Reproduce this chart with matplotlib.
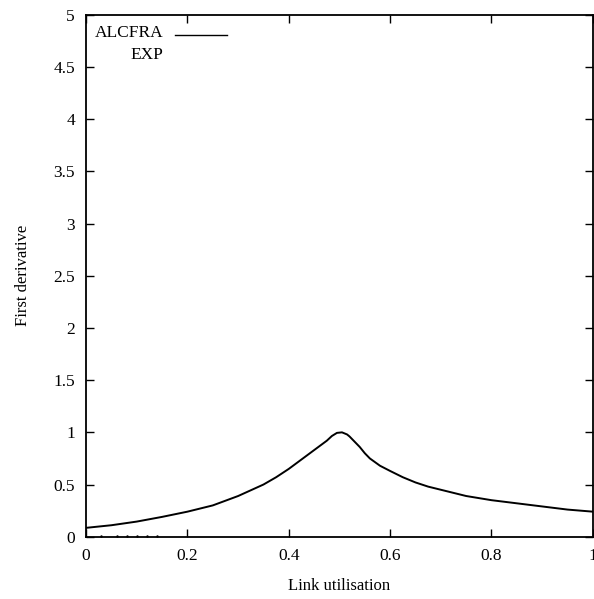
import numpy as np
import matplotlib.pyplot as plt

plt.rcParams['font.family'] = ['Liberation Serif', 'DejaVu Serif']

# ALCFRA curve
util = [0.0, 0.05, 0.1, 0.15, 0.2, 0.25, 0.3, 0.35, 0.375, 0.4, 0.425, 0.45,
        0.475, 0.485, 0.495, 0.505, 0.515, 0.52, 0.53, 0.54, 0.55, 0.56,
        0.58, 0.6, 0.625, 0.65, 0.675, 0.7, 0.75, 0.8, 0.85, 0.9, 0.95, 1.0]
alcfra = [0.085, 0.11, 0.145, 0.19, 0.24, 0.30, 0.39, 0.50, 0.57, 0.65,
          0.74, 0.83, 0.92, 0.965, 0.995, 1.0, 0.98, 0.96, 0.91, 0.86, 0.80,
          0.75, 0.68, 0.63, 0.57, 0.52, 0.48, 0.45, 0.39, 0.35, 0.32, 0.29,
          0.26, 0.24]

# EXP points sit almost on the x axis
exp_x = [0.03, 0.06, 0.08, 0.1, 0.12, 0.14]
exp_y = [0.01, 0.01, 0.01, 0.01, 0.01, 0.01]

xticks = [0, 0.2, 0.4, 0.6, 0.8, 1]
xlabels = ['0', '0.2', '0.4', '0.6', '0.8', '1']
yticks = [0, 0.5, 1, 1.5, 2, 2.5, 3, 3.5, 4, 4.5, 5]
ylabels = ['0', '0.5', '1', '1.5', '2', '2.5', '3', '3.5', '4', '4.5', '5']

fig = plt.figure(figsize=(5.94, 5.99), dpi=100)
ax = fig.add_axes([0.145, 0.104, 0.853, 0.871])

ax.plot(util, alcfra, color='black', lw=1.4)
ax.plot(exp_x, exp_y, ls='none', marker='.', ms=1.5, color='black')

ax.set_xlim(0, 1)
ax.set_ylim(0, 5)
ax.set_xticks(xticks)
ax.set_xticklabels(xlabels)
ax.set_yticks(yticks)
ax.set_yticklabels(ylabels)
ax.tick_params(direction='in', length=6, width=1, top=True, right=True,
               labelsize=12.5, pad=8)
for s in ax.spines.values():
    s.set_linewidth(1.3)

ax.set_xlabel('Link utilisation', fontsize=12, labelpad=10)
ax.set_ylabel('First derivative', fontsize=12, labelpad=16)

# gnuplot style key: right aligned labels, sample after
ax.text(0.152, 0.965, 'ALCFRA', transform=ax.transAxes, ha='right',
        va='center', fontsize=12.5)
ax.text(0.152, 0.924, 'EXP', transform=ax.transAxes, ha='right',
        va='center', fontsize=12.5)
ax.plot([0.176, 0.278], [0.962, 0.962], transform=ax.transAxes,
        color='black', lw=1)

fig.savefig('out.png', dpi=100)
